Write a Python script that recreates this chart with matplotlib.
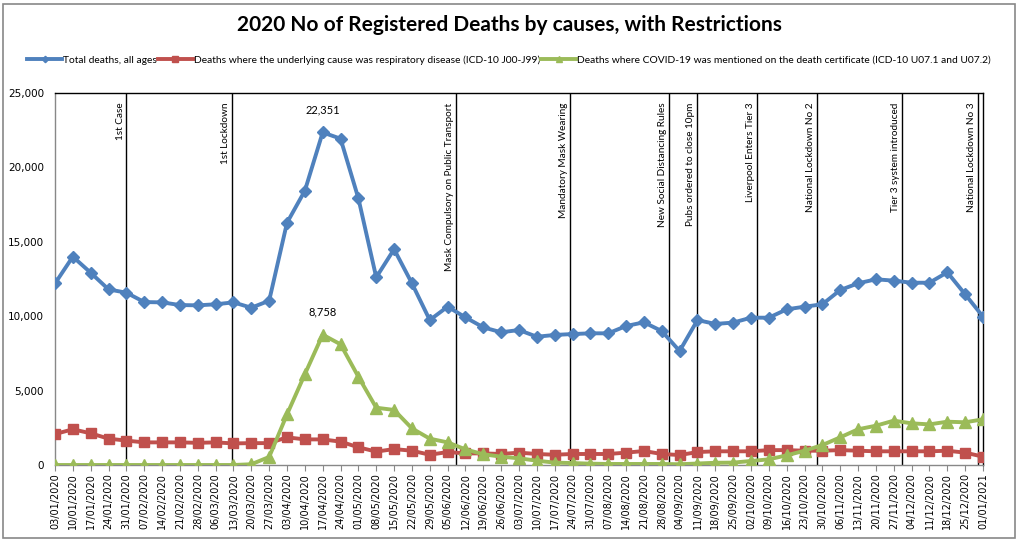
import numpy as np
import pandas as pd
from matplotlib import pyplot as plt
from matplotlib.patches import Rectangle

# weekly dates (week ending)
dates = pd.date_range("2020-01-03", "2021-01-01", freq="7D").strftime("%d/%m/%Y").tolist()

total_deaths = [12200, 14000, 12920, 11800, 11580, 10950, 10930, 10750, 10730, 10800,
                10930, 10570, 11040, 16280, 18430, 22351, 21930, 17920, 12610, 14500,
                12210, 9740, 10640, 9920, 9250, 8920, 9070, 8620, 8740, 8800,
                8850, 8850, 9340, 9590, 9000, 7660, 9740, 9480, 9570, 9900,
                9900, 10460, 10640, 10800, 11760, 12210, 12480, 12390, 12250, 12250,
                12950, 11470, 9970]
resp_deaths = [2080, 2400, 2130, 1770, 1640, 1520, 1520, 1520, 1490, 1520,
               1450, 1470, 1470, 1860, 1720, 1720, 1570, 1190, 900, 1070,
               960, 690, 870, 780, 780, 740, 830, 740, 690, 740,
               740, 740, 830, 940, 740, 670, 870, 920, 920, 920,
               1000, 1000, 960, 960, 1000, 960, 920, 920, 920, 920,
               960, 830, 560]
covid_deaths = [0, 0, 0, 0, 0, 0, 0, 0, 0, 0,
                0, 50, 540, 3400, 6100, 8758, 8110, 5930, 3850, 3700,
                2460, 1770, 1520, 1050, 720, 560, 450, 290, 160, 130,
                90, 70, 70, 70, 70, 50, 100, 150, 160, 270,
                380, 650, 960, 1340, 1860, 2400, 2640, 2980, 2800, 2730,
                2910, 2870, 3070]

# restriction markers (position in weeks from 03/01/2020)
event_pos = [4.0, 9.9, 22.46, 28.85, 34.4, 35.98, 39.35, 42.7, 47.47, 51.73]
event_labels = ["1st Case", "1st Lockdown", "Mask Compulsory on Public Transport",
                "Mandatory Mask Wearing", "New Social Distancing Rules",
                "Pubs ordered to close 10pm", "Liverpool Enters Tier 3",
                "National Lockdown No 2", "Tier 3 system introduced",
                "National Lockdown No 3"]

narrow = ["Liberation Sans Narrow", "Lato", "DejaVu Sans"]

W, H = 1018, 541
fig = plt.figure(figsize=(W / 100, H / 100), dpi=100)
fig.patches.append(Rectangle((3 / W, 3 / H), 1012 / W, 534 / H, transform=fig.transFigure,
                             fill=False, edgecolor="#888888", lw=1.2))

ax = fig.add_axes([55 / W, 1 - 465 / H, 928 / W, 372 / H])
x = np.arange(len(dates))

ax.plot(x, total_deaths, color="#4F81BD", lw=2.8, marker="D", ms=6.5,
        label="Total deaths, all ages", zorder=3)
ax.plot(x, resp_deaths, color="#C0504D", lw=2.8, marker="s", ms=7.5,
        label="Deaths where the underlying cause was respiratory disease (ICD-10 J00-J99)", zorder=3)
ax.plot(x, covid_deaths, color="#9BBB59", lw=2.8, marker="^", ms=8,
        label="Deaths where COVID-19 was mentioned on the death certificate (ICD-10 U07.1 and U07.2)", zorder=3)

for p, lab in zip(event_pos, event_labels):
    ax.axvline(p, color="black", lw=1, zorder=2)
    ax.text(p - 0.1, 24350, lab, rotation=90, ha="right", va="top",
            fontsize=7.2, family=narrow)

i_peak = int(np.argmax(total_deaths))
ax.annotate(f"{total_deaths[i_peak]:,}", (i_peak, total_deaths[i_peak]), xytext=(0, 14),
            textcoords="offset points", ha="center", fontsize=8, family=narrow)
i_cpeak = int(np.argmax(covid_deaths))
ax.annotate(f"{covid_deaths[i_cpeak]:,}", (i_cpeak, covid_deaths[i_cpeak]), xytext=(0, 14),
            textcoords="offset points", ha="center", fontsize=8, family=narrow)

ax.set_xlim(0, len(dates) - 1)
ax.set_ylim(0, 25000)
ax.set_yticks(range(0, 25001, 5000))
ax.set_yticklabels([f"{v:,}" for v in range(0, 25001, 5000)], fontsize=7.5)
ax.set_xticks(x)
ax.set_xticklabels(dates, rotation=90, fontsize=7)
ax.tick_params(axis="y", length=0, pad=8)
ax.tick_params(axis="x", length=4, color="#888888", pad=2)
ax.spines["bottom"].set_color("#888888")
ax.spines["left"].set_color("#888888")
ax.spines["top"].set_color("black")
ax.spines["right"].set_color("black")
for s in ax.spines.values():
    s.set_linewidth(1)

fig.text(0.5, 1 - 25 / H, "2020 No of Registered Deaths by causes, with Restrictions",
         ha="center", va="center", fontsize=15, fontweight="bold", family=narrow)
fig.legend(loc="center", bbox_to_anchor=(0.5, 1 - 60 / H), ncol=3, frameon=False,
           prop={"family": narrow, "size": 7.4}, handlelength=3.4, handletextpad=0.1,
           columnspacing=0.1, markerscale=0.5)

fig.savefig("out.png", dpi=100)
